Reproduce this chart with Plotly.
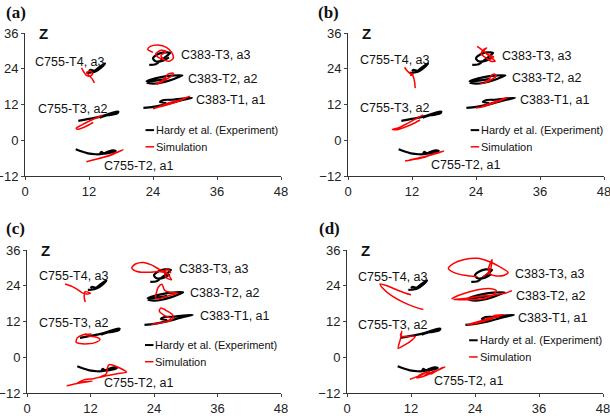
import plotly.graph_objects as go

# ---------------- data (X, Z) ----------------
# Experiment (Hardy et al.) – identical in all panels
exp_C755_T4 = ([11.5, 12.5, 13.3, 14.2, 15.0, 14.6, 13.8, 13.0, 12.3, 12.0],
               [22.6, 22.8, 23.2, 24.3, 25.8, 25.4, 24.4, 23.3, 23.6, 23.2])
exp_C755_T3 = ([10.0, 11.5, 13.0, 14.5, 15.5, 16.5, 17.5, 17.3, 16.0, 15.0, 14.0],
               [6.5, 7.0, 7.5, 8.1, 8.7, 9.3, 9.6, 9.0, 8.5, 8.2, 7.6])
exp_C755_T2 = ([9.5, 10.5, 11.8, 13.2, 14.5, 15.5, 16.5, 17.0, 16.0, 14.8, 14.3, 14.0],
               [-3.0, -3.7, -4.4, -4.7, -4.6, -3.9, -3.4, -3.6, -4.2, -4.5, -3.9, -4.8])
exp_C383_T3 = ([23.3, 24.5, 25.5, 26.5, 27.2, 26.0, 24.8, 24.0, 24.5, 26.0, 27.0],
               [25.3, 25.5, 26.8, 28.2, 29.3, 29.5, 28.8, 27.5, 26.5, 26.8, 27.8])
exp_C383_T2 = ([22.8, 24.0, 25.5, 27.0, 28.5, 29.5, 27.5, 25.5, 23.5, 22.8, 24.5, 26.5],
               [19.3, 19.0, 19.3, 20.0, 21.0, 21.8, 21.7, 21.2, 20.3, 19.8, 20.0, 20.6])
exp_C383_T1 = ([22.2, 24.0, 25.5, 27.0, 28.5, 30.0, 31.3, 29.5, 27.5, 26.0, 25.3, 26.5],
               [10.9, 11.2, 11.7, 12.3, 13.0, 13.7, 14.2, 14.0, 13.6, 13.5, 12.8, 12.5])

# Simulation – panel (a)
sim_a_C755_T4 = ([10.6, 11.0, 11.5, 12.2, 12.7, 12.3, 11.6, 12.0, 12.6, 13.0],
                 [24.3, 23.0, 21.8, 21.5, 22.3, 23.2, 22.8, 21.7, 20.6, 19.2])
sim_a_C755_T3 = ([14.5, 13.0, 11.8, 10.5, 9.6, 10.0, 11.0, 12.3, 12.8],
                 [8.4, 7.2, 6.2, 5.0, 4.0, 3.7, 4.3, 5.5, 6.0])
sim_a_C755_T2 = ([11.5, 13.0, 14.5, 16.0, 17.3, 18.4, 17.0, 15.5, 13.5, 12.0],
                 [-7.2, -6.5, -5.8, -4.9, -4.0, -3.2, -4.3, -5.4, -6.3, -7.0])
sim_a_C383_T3 = ([24.0, 23.0, 23.5, 25.0, 26.5, 27.5, 27.8, 27.0, 26.0, 25.5, 26.5, 25.5, 24.5, 25.0, 26.0],
                 [29.5, 30.5, 31.5, 32.0, 31.2, 29.5, 27.5, 26.5, 27.2, 28.5, 29.8, 30.2, 29.0, 27.8, 27.0])
sim_a_C383_T2 = ([24.5, 25.5, 26.5, 27.5, 27.8, 26.8, 26.3, 25.5, 25.0, 24.8],
                 [19.0, 19.4, 20.5, 21.6, 22.5, 22.2, 21.0, 19.8, 19.2, 18.6])
sim_a_C383_T1 = ([24.0, 25.5, 27.0, 28.5, 30.0, 30.9, 29.0, 27.0, 25.0],
                 [10.6, 11.3, 12.1, 12.9, 14.0, 14.8, 13.5, 12.5, 11.2])

# Simulation – panel (b)
sim_b_C755_T4 = ([10.6, 11.0, 11.5, 12.2, 11.8, 11.7, 12.2, 12.5, 12.6],
                 [24.5, 23.5, 22.6, 22.0, 21.8, 22.6, 21.5, 19.5, 17.5])
sim_b_C755_T3 = ([14.1, 12.5, 11.0, 9.5, 8.3, 9.0, 10.5, 12.5, 13.5],
                 [8.5, 7.0, 5.5, 4.2, 3.6, 3.5, 4.3, 5.8, 6.8])
sim_b_C755_T2 = ([10.7, 12.5, 14.5, 16.0, 17.9, 16.5, 15.0, 13.0, 11.5],
                 [-7.0, -6.4, -5.6, -4.7, -3.7, -4.3, -5.2, -6.0, -6.6])
sim_b_C383_T3 = ([24.2, 25.0, 26.0, 27.0, 27.6, 26.8, 26.0, 25.0, 25.5, 26.0, 25.5, 26.5, 27.3, 26.5],
                 [31.5, 30.5, 29.0, 27.5, 26.5, 26.5, 27.5, 29.0, 30.5, 31.0, 30.0, 28.5, 28.0, 27.0])
sim_b_C383_T2 = ([24.8, 26.0, 27.0, 27.8, 27.5, 26.8, 26.5, 25.5],
                 [19.0, 19.5, 20.5, 21.5, 22.2, 21.6, 20.5, 19.3])
sim_b_C383_T1 = ([24.0, 25.5, 27.0, 28.5, 30.0, 28.5, 26.5, 25.0],
                 [10.8, 11.3, 12.2, 13.2, 14.4, 13.5, 12.3, 11.3])

# Simulation – panel (c)
sim_c_C755_T4 = ([7.2, 8.5, 9.5, 10.3, 11.2, 12.0, 11.0, 10.8, 11.0],
                 [24.6, 23.8, 22.8, 21.8, 21.2, 21.5, 22.0, 20.5, 18.5])
sim_c_C755_T3 = ([12.2, 10.5, 9.5, 9.3, 10.0, 11.5, 13.0, 13.8, 13.0, 11.5, 11.0],
                 [7.8, 7.5, 6.5, 5.0, 4.6, 4.5, 5.0, 6.0, 6.8, 7.2, 8.0])
sim_c_C755_T2 = ([7.5, 9.0, 10.5, 12.3, 10.5, 9.5, 11.0, 12.5, 14.0, 15.0, 15.2, 15.5, 17.0, 18.8, 17.0, 15.0, 13.5],
                 [-9.6, -9.0, -8.5, -8.0, -8.3, -8.6, -7.5, -7.2, -6.5, -5.5, -3.5, -2.5, -3.2, -5.0, -5.5, -6.2, -6.8])
sim_c_C383_T3 = ([26.5, 25.0, 23.5, 22.0, 20.5, 19.8, 20.8, 23.0, 25.0, 26.5, 27.0, 27.3, 26.3, 26.0, 26.5, 27.2],
                 [28.5, 29.5, 31.0, 31.8, 31.3, 30.0, 28.8, 28.5, 28.8, 28.0, 27.0, 26.0, 26.8, 28.5, 29.8, 28.2])
sim_c_C383_T2 = ([25.5, 24.8, 24.5, 24.3, 24.5, 26.0, 27.5, 28.5, 27.0, 26.0, 25.5],
                 [24.5, 23.5, 22.0, 20.5, 19.6, 20.2, 21.0, 21.5, 21.8, 22.5, 24.5])
sim_c_C383_T1 = ([23.5, 25.0, 26.5, 27.5, 27.6, 26.5, 25.3, 25.0, 26.0, 27.2, 26.5],
                 [11.0, 11.5, 12.0, 12.8, 14.0, 15.5, 16.5, 15.5, 14.0, 13.0, 12.0])

# Simulation – panel (d)
sim_d_C755_T4 = ([14.3, 12.5, 10.5, 8.5, 6.8, 6.2, 7.5, 9.5, 11.0, 12.0],
                 [16.0, 17.0, 18.5, 20.5, 23.0, 24.6, 24.0, 22.5, 21.5, 21.0])
sim_d_C755_T3 = ([10.0, 10.3, 10.0, 9.6, 10.5, 12.0, 12.8, 11.5, 10.0],
                 [7.2, 8.8, 6.0, 3.0, 3.8, 5.5, 7.0, 7.0, 7.0])
sim_d_C755_T2 = ([11.8, 13.0, 14.5, 13.5, 15.5, 14.5, 16.5, 15.8, 17.5, 18.4, 16.5, 14.5, 13.0],
                 [-7.4, -6.6, -5.5, -6.0, -4.7, -6.2, -4.5, -5.7, -3.8, -3.3, -4.8, -6.3, -7.0])
sim_d_C383_T3 = ([24.5, 22.0, 20.0, 19.0, 20.0, 22.0, 24.5, 26.5, 28.5, 30.2, 29.5, 28.0, 26.8, 26.5, 27.2, 26.8, 25.5],
                 [27.0, 27.5, 28.5, 29.8, 31.5, 32.8, 33.2, 32.2, 30.5, 28.5, 27.5, 27.3, 28.0, 29.5, 32.8, 29.0, 27.0])
sim_d_C383_T2 = ([19.6, 21.0, 23.0, 25.0, 27.0, 28.0, 27.0, 25.0, 22.0, 20.0, 22.5, 25.0, 27.0, 28.5, 29.8, 30.9],
                 [19.6, 20.8, 22.0, 22.8, 23.0, 22.3, 20.5, 19.5, 19.3, 19.4, 19.8, 20.5, 20.8, 21.2, 21.6, 22.3])
sim_d_C383_T1 = ([22.4, 24.5, 26.5, 25.0, 27.5, 26.0, 28.5, 27.5, 29.4, 27.0, 25.0, 23.0],
                 [10.8, 11.5, 12.5, 12.0, 13.0, 13.0, 13.6, 14.0, 14.3, 13.2, 12.2, 11.2])

curve_labels = ["C755-T4, a3", "C755-T3, a2", "C755-T2, a1",
                "C383-T3, a3", "C383-T2, a2", "C383-T1, a1"]
exp_curves = [exp_C755_T4, exp_C755_T3, exp_C755_T2, exp_C383_T3, exp_C383_T2, exp_C383_T1]
sim_panels = {
    "a": [sim_a_C755_T4, sim_a_C755_T3, sim_a_C755_T2, sim_a_C383_T3, sim_a_C383_T2, sim_a_C383_T1],
    "b": [sim_b_C755_T4, sim_b_C755_T3, sim_b_C755_T2, sim_b_C383_T3, sim_b_C383_T2, sim_b_C383_T1],
    "c": [sim_c_C755_T4, sim_c_C755_T3, sim_c_C755_T2, sim_c_C383_T3, sim_c_C383_T2, sim_c_C383_T1],
    "d": [sim_d_C755_T4, sim_d_C755_T3, sim_d_C755_T2, sim_d_C383_T3, sim_d_C383_T2, sim_d_C383_T1],
}
x_ticks = [0, 12, 24, 36, 48]
z_ticks = [-12, 0, 12, 24, 36]
legend_names = ["Hardy et al. (Experiment)", "Simulation"]

# ---------------- layout helpers ----------------
W, H = 610, 416
# pixel boxes of each panel's plotting area: (left, right, top, bottom)
boxes = {"a": (25, 281, 33, 176), "b": (348, 604, 33, 176),
         "c": (27, 281, 250, 393), "d": (347, 603, 250, 393)}
# label anchor positions (data coords) per panel
label_pos = {
    "a": [(1.5, 26.3), (2.0, 10.6), (14.5, -8.6), (28.9, 28.5), (30.1, 20.4), (31.7, 13.4)],
    "b": [(1.9, 26.8), (1.9, 10.8), (15.1, -8.2), (28.5, 28.2), (30.4, 21.0), (31.9, 13.6)],
    "c": [(1.8, 27.3), (1.9, 11.6), (14.2, -8.5), (28.3, 29.5), (30.5, 21.7), (32.3, 13.9)],
    "d": [(1.75, 27.0), (1.6, 10.9), (16.0, -7.9), (31.2, 28.1), (31.4, 20.6), (31.7, 13.3)],
}
legend_pos = {"a": (22.6, 3.4, -2.2), "b": (23.0, 3.4, -2.2),
              "c": (22.3, 4.1, -1.5), "d": (22.9, 5.7, 0.1)}
panel_tag_px = {"a": (4, 12), "b": (316, 12), "c": (4, 228), "d": (317, 228)}


def join(curves):
    xs, ys = [], []
    for cx, cy in curves:
        xs += list(cx) + [None]
        ys += list(cy) + [None]
    return xs, ys


fig = go.Figure()
annotations = []
shapes = []
font_main = "Arial, Liberation Sans, sans-serif"

for i, p in enumerate(["a", "b", "c", "d"]):
    n = "" if i == 0 else str(i + 1)
    xa, ya = "x" + n, "y" + n
    l, r, t, b = boxes[p]
    fig.update_layout(**{
        "xaxis" + n: dict(domain=[l / W, r / W], range=[0, 48], anchor=ya, automargin=False,
                          tickvals=x_ticks, ticks="outside", ticklen=3, tickwidth=1,
                          ticklabeloverflow="allow",
                          showline=True, linecolor="#333", linewidth=1, showgrid=False,
                          zeroline=False, tickfont=dict(size=13, color="#222", family=font_main),
                          fixedrange=True),
        "yaxis" + n: dict(domain=[1 - b / H, 1 - t / H], range=[-12, 36], anchor=xa, automargin=False,
                          tickvals=z_ticks, ticks="outside", ticklen=3, tickwidth=1,
                          ticklabelstandoff=0, ticklabeloverflow="allow",
                          showline=True, linecolor="#333", linewidth=1, showgrid=False,
                          zeroline=False, tickfont=dict(size=13, color="#222", family=font_main),
                          fixedrange=True),
    })
    ex, ey = join(exp_curves)
    sx, sy = join(sim_panels[p])
    fig.add_trace(go.Scatter(x=ex, y=ey, mode="lines", xaxis=xa, yaxis=ya,
                             line=dict(color="black", width=2.2, shape="spline", smoothing=0.8),
                             showlegend=False, hoverinfo="skip"))
    fig.add_trace(go.Scatter(x=sx, y=sy, mode="lines", xaxis=xa, yaxis=ya,
                             line=dict(color="#ff0000", width=1.5, shape="spline", smoothing=0.8),
                             showlegend=False, hoverinfo="skip"))
    for lab, (lx, ly) in zip(curve_labels, label_pos[p]):
        annotations.append(dict(x=lx, y=ly, xref=xa, yref=ya, text=lab, showarrow=False,
                                xanchor="left", yanchor="middle",
                                font=dict(size=12.5, color="#111", family=font_main)))
    # axis names
    annotations.append(dict(x=2.2, y=36, xref=xa, yref=ya, text="<b>Z</b>", showarrow=False,
                            xanchor="left", yanchor="middle",
                            font=dict(size=15, color="#111", family=font_main)))
    annotations.append(dict(x=48.4, y=-7.5, xref=xa, yref=ya, text="<b>X</b>", showarrow=False,
                            xanchor="right", yanchor="middle",
                            font=dict(size=15, color="#111", family=font_main)))
    # legend
    lx0, ly1, ly2 = legend_pos[p]
    for (yy, col, name) in [(ly1, "black", legend_names[0]), (ly2, "#ff0000", legend_names[1])]:
        shapes.append(dict(type="line", xref=xa, yref=ya, x0=lx0, x1=lx0 + 1.6, y0=yy, y1=yy,
                           line=dict(color=col, width=2 if col == "black" else 1.5)))
        annotations.append(dict(x=lx0 + 1.6, y=yy, xref=xa, yref=ya, text=name, showarrow=False,
                                xanchor="left", yanchor="middle",
                                font=dict(size=11, color="#111", family=font_main)))
    # panel tag
    px, py = panel_tag_px[p]
    annotations.append(dict(x=px / W, y=1 - py / H, xref="paper", yref="paper",
                            text="<b>(" + p + ")</b>", showarrow=False,
                            xanchor="left", yanchor="middle",
                            font=dict(size=17, color="#111", family="Liberation Serif, Times New Roman, serif")))

fig.update_layout(width=W, height=H, margin=dict(l=0, r=0, t=0, b=0),
                  plot_bgcolor="white", paper_bgcolor="white",
                  annotations=annotations, shapes=shapes, showlegend=False)

fig.write_html("out.html", config={"displayModeBar": False},
               post_script="document.body.style.margin='0';document.body.style.overflow='hidden';")
